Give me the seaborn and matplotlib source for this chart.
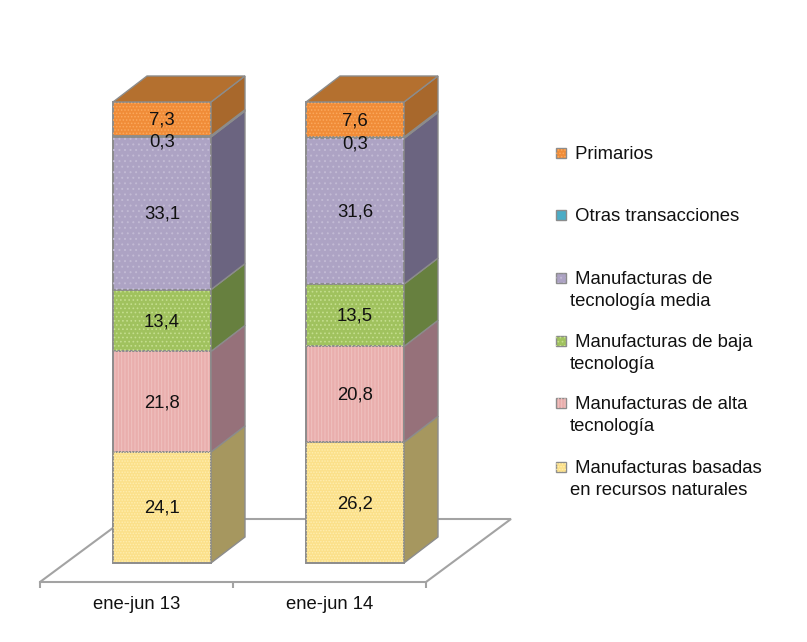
import matplotlib
matplotlib.use("Agg")
import matplotlib.pyplot as plt
from matplotlib.patches import Polygon, Rectangle
import seaborn as sns
import numpy as np

periods = ["ene-jun 13", "ene-jun 14"]
recursos = [24.1, 26.2]
alta = [21.8, 20.8]
baja = [13.4, 13.5]
media = [33.1, 31.6]
otras = [0.3, 0.3]
primarios = [7.3, 7.6]

series_values = [recursos, alta, baja, media, otras, primarios]
front_colors = ["#FBE08A", "#E9AEAD", "#A0C25E", "#ADA3C4", "#4BACC6", "#F08C38"]
side_colors = ["#A6975F", "#96717A", "#67803F", "#6B6480", "#357A8C", "#A8682C"]
top_colors = ["#C9B96F", "#C9908E", "#88A055", "#8D85A0", "#3F90A6", "#B4702F"]
dot_colors = ["#FFEEB0", "#F0C2C0", "#C4DE8E", "#C2BAD4", "#4BACC6", "#FBA95E"]
hatches = ["......", "|||||", "....", "...", None, "....."]
legend_labels = [
    " Primarios",
    " Otras transacciones",
    " Manufacturas de\ntecnología media",
    " Manufacturas de baja\ntecnología",
    " Manufacturas de alta\ntecnología",
    " Manufacturas basadas\nen recursos naturales",
]
legend_first_line_px = [153, 215, 278, 341, 403, 467]

W, H = 807, 642
PX_PER_CAT = 193.0
PX_PER_UNIT = 4.61
EDGE = "#8C8C8C"
AXIS = "#A3A3A3"
FONT = "Liberation Sans"
TEXT_SIZE = 13.3

sns.set_style("white")
plt.rcParams["font.family"] = [FONT, "DejaVu Sans"]
plt.rcParams["hatch.linewidth"] = 0.7

fig = plt.figure(figsize=(W / 100, H / 100), dpi=100, facecolor="white")
ax_left, ax_right, ax_bottom, ax_top = 40, 426, 582, 70
ax = fig.add_axes([ax_left / W, 1 - ax_bottom / H, (ax_right - ax_left) / W, (ax_bottom - ax_top) / H])

bottoms = np.zeros(len(periods))
segments = []
for vals, fc in zip(series_values, front_colors):
    sns.barplot(x=periods, y=vals, bottom=bottoms, color=fc, saturation=1, width=98 / PX_PER_CAT,
                edgecolor=EDGE, linewidth=1.4, ax=ax, zorder=3, legend=False)
    segments.append(ax.containers[-1])
    bottoms = bottoms + np.array(vals)

x0 = -(162 - ax_left) / PX_PER_CAT
x1 = x0 + (ax_right - ax_left) / PX_PER_CAT
ax.set_xlim(x0, x1)
y0 = -(582 - 563) / PX_PER_UNIT
ax.set_ylim(y0, y0 + (ax_bottom - ax_top) / PX_PER_UNIT)

# 3D depth derived from the bars' own geometry
dx, dy = 34 / PX_PER_CAT, 26 / PX_PER_UNIT
for i, cont in enumerate(segments):
    is_top = i == len(segments) - 1
    for patch, val in zip(cont.patches, series_values[i]):
        x, b = patch.get_xy()
        w, h = patch.get_width(), patch.get_height()
        r = x + w
        side = Polygon([(r, b), (r + dx, b + dy), (r + dx, b + h + dy), (r, b + h)],
                       facecolor=side_colors[i], edgecolor=EDGE, lw=1.0, zorder=3, clip_on=False)
        ax.add_patch(side)
        if is_top:
            ax.add_patch(Polygon([(x, b + h), (r, b + h), (r + dx, b + h + dy), (x + dx, b + h + dy)],
                                 facecolor=top_colors[i], edgecolor=EDGE, lw=1.0, zorder=3, clip_on=False))
        if hatches[i]:
            ax.add_patch(Rectangle((x, b), w, h, fill=False, hatch=hatches[i], edgecolor=dot_colors[i],
                                   lw=0, zorder=3.5))
        offset = -6 if val < 1 else -1
        ax.annotate(f"{val:.1f}".replace(".", ","), (x + w / 2, b + h / 2), xytext=(0, offset * 0.72),
                    textcoords="offset points", ha="center", va="center", fontsize=TEXT_SIZE,
                    color="#111111", zorder=5)

# floor of the 3D chart
fdx, fdy = 85 / PX_PER_CAT, (582 - 519) / PX_PER_UNIT
ax.plot([x0, x0 + fdx, x1 + fdx, x1], [y0, y0 + fdy, y0 + fdy, y0], color=AXIS, lw=1.5,
        zorder=1, clip_on=False, solid_joinstyle="miter")

# axis
for s in ["top", "left", "right"]:
    ax.spines[s].set_visible(False)
ax.spines["bottom"].set_color(AXIS)
ax.spines["bottom"].set_linewidth(1.5)
mids = [(x0 + x0 + 1) / 2, (x0 + 1 + x1) / 2]
ax.set_xticks([x0, x0 + 1, x1], labels=["", "", ""])
ax.set_xticks(mids, labels=periods, minor=True)
ax.tick_params(axis="x", which="major", length=4, width=1.5, color=AXIS, bottom=True)
ax.tick_params(axis="x", which="minor", length=0, pad=10, labelsize=TEXT_SIZE, labelcolor="#111111", bottom=True)
ax.set_yticks([])
ax.set_xlabel("")
ax.set_ylabel("")
ax.patch.set_visible(False)

# legend
legend_fc = front_colors[::-1]
legend_hatch = hatches[::-1]
legend_dots = dot_colors[::-1]
for lab, fc, h_, dc, py in zip(legend_labels, legend_fc, legend_hatch, legend_dots, legend_first_line_px):
    fig.add_artist(Rectangle((555.5 / W, 1 - (py + 5) / H), 10 / W, 10 / H, transform=fig.transFigure,
                             facecolor=fc, edgecolor=EDGE, lw=1.0))
    if h_:
        fig.add_artist(Rectangle((555.5 / W, 1 - (py + 5) / H), 10 / W, 10 / H, transform=fig.transFigure,
                                 fill=False, edgecolor=dc, lw=0, hatch=h_))
    fig.text(570 / W, 1 - (py - 7) / H, lab, ha="left", va="top", fontsize=TEXT_SIZE, color="#111111",
             linespacing=1.36)

fig.savefig("out.png", dpi=100, facecolor="white")
